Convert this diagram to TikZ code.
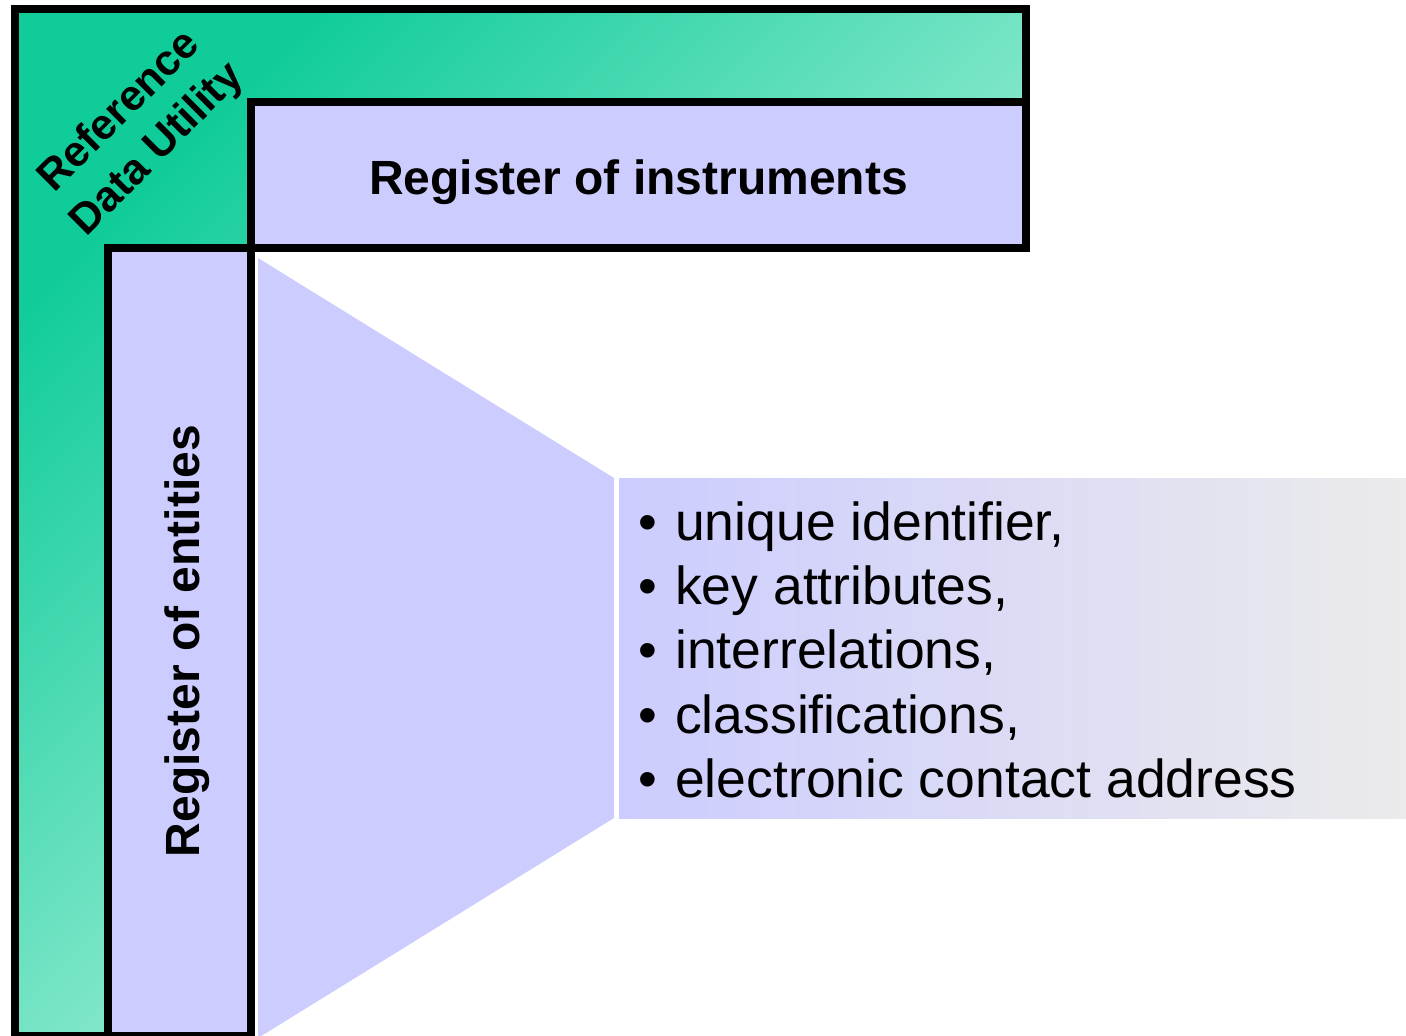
\documentclass[tikz,border=0pt]{standalone}
\usepackage{fontspec}
\setmainfont{Liberation Sans}
\definecolor{lav}{HTML}{CCCCFF}
\definecolor{greenA}{HTML}{10CC99}
\definecolor{greenB}{HTML}{82EACC}
\definecolor{greenC}{HTML}{D8FBF0}
\definecolor{greyR}{HTML}{EBEBEB}
\begin{document}
\begin{tikzpicture}[x=1pt,y=-1pt,
  frame/.style={draw=black, line width=8pt, line join=miter},
  boldlabel/.style={inner sep=0pt, font=\bfseries},
  itemtext/.style={inner sep=0pt, anchor=base west, font=\fontsize{53.5}{64}\selectfont},
  itemdot/.style={inner sep=0pt, anchor=base, font=\fontsize{53.5}{64}\selectfont}]
\useasboundingbox (0,0) rectangle (1406,1036);

% L-shaped utility band with diagonal gradient
\shade[top color=greenA, middle color=greenB, bottom color=greenC, shading angle=45]
  (15,8.5) -- (1026,8.5) -- (1026,102) -- (251,102) -- (251,247.5)
  -- (108,247.5) -- (108,1036) -- (15,1036) -- cycle;
\draw[frame]
  (15,8.5) -- (1026,8.5) -- (1026,102) -- (251,102) -- (251,247.5)
  -- (108,247.5) -- (108,1036) -- (15,1036) -- cycle;

% the two registers
\draw[frame, fill=lav] (251,102) rectangle (1026,247.5);
\draw[frame, fill=lav] (108,247.5) rectangle (251,1036);

% widening beam from the register of entities
\fill[lav] (258,258) -- (614,478) -- (614,818) -- (258,1038) -- cycle;

% detail panel
\shade[left color=lav, right color=greyR] (619,478) rectangle (1406,818);

% labels
\node[boldlabel, rotate=45, align=center,
      font=\bfseries\fontsize{43}{53}\selectfont] (rdu) at (139,131)
  {Reference\\Data Utility};
\node[boldlabel, anchor=base, font=\bfseries\fontsize{48}{58}\selectfont]
  (instr) at (638.5,194) {Register of instruments};
\node[boldlabel, anchor=base, rotate=90, font=\bfseries\fontsize{48}{58}\selectfont]
  (ent) at (199,641) {Register of entities};

% attribute list
\node[itemdot] (d1) at (648,540) {•};
\node[itemtext] (t1) at (675,540) {unique identifier,};
\node[itemdot] (d2) at (648,604) {•};
\node[itemtext] (t2) at (675,604) {key attributes,};
\node[itemdot] (d3) at (648,668) {•};
\node[itemtext] (t3) at (675,668) {interrelations,};
\node[itemdot] (d4) at (648,733) {•};
\node[itemtext] (t4) at (675,733) {classifications,};
\node[itemdot] (d5) at (648,797) {•};
\node[itemtext] (t5) at (675,797) {electronic contact address};
\end{tikzpicture}
\end{document}
